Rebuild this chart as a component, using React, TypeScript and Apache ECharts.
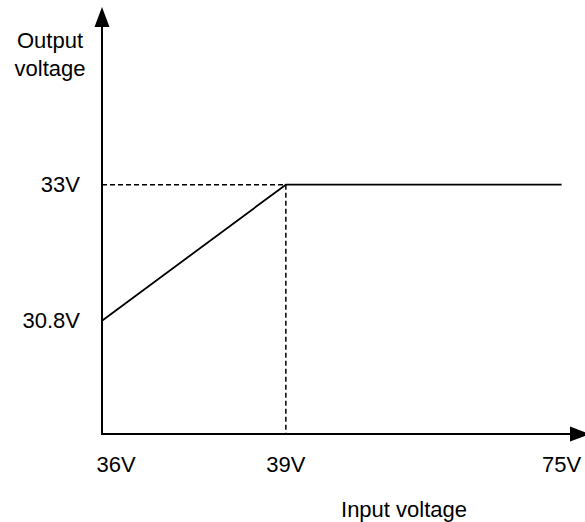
import React, { useEffect, useRef } from "react";
import * as echarts from "echarts";

// Schematic position of each input-voltage mark along the (non-linear) x axis
const inputLabels = ["36V", "39V", "75V"];
const inputPositions = [0, 2, 5];
// Output voltage tick values
const outputTicks = [30.8, 33];
// Characteristic curve: output voltage at each input mark
const outputValues = [30.8, 33, 33];

const FONT = "'Liberation Sans', Arial, Helvetica, sans-serif";
const FS = 22;

export default function App() {
  const ref = useRef<HTMLDivElement>(null);

  useEffect(() => {
    if (!ref.current) return;
    const chart = echarts.init(ref.current, null, { renderer: "svg" });

    const curve = inputPositions.map((x, i) => [x, outputValues[i]]);
    const yMin = 28.97;
    const kneeX = inputPositions[1];
    const kneeY = outputValues[1];

    chart.setOption({
      animation: false,
      backgroundColor: "#ffffff",
      grid: { left: 102, right: 5, top: 17, bottom: 88, containLabel: false },
      xAxis: {
        type: "value",
        min: 0,
        max: 5.2,
        splitLine: { show: false },
        axisTick: { show: false },
        axisLine: {
          onZero: false,
          symbol: ["none", "triangle"],
          symbolSize: [15, 20],
          lineStyle: { color: "#000", width: 2 },
        },
        axisLabel: {
          customValues: inputPositions,
          margin: 19,
          formatter: (v: number) => {
            const i = inputPositions.indexOf(v);
            if (i < 0) return "";
            return i === 0 ? `{first|${inputLabels[i]}}` : `{n|${inputLabels[i]}}`;
          },
          rich: {
            first: { fontSize: FS, fontFamily: FONT, color: "#000", padding: [0, 0, 0, 28] },
            n: { fontSize: FS, fontFamily: FONT, color: "#000" },
          },
          color: "#000",
          fontSize: FS,
          fontFamily: FONT,
        },
      },
      yAxis: {
        type: "value",
        min: yMin,
        max: 35.71,
        splitLine: { show: false },
        axisTick: { show: false },
        axisLine: {
          onZero: false,
          symbol: ["none", "triangle"],
          symbolSize: [15, 20],
          lineStyle: { color: "#000", width: 2 },
        },
        axisLabel: {
          customValues: outputTicks,
          margin: 22,
          formatter: (v: number) => `${v}V`,
          color: "#000",
          fontSize: FS,
          fontFamily: FONT,
        },
      },
      series: [
        {
          type: "line",
          data: curve,
          symbol: "none",
          lineStyle: { color: "#000", width: 1.8 },
          z: 3,
        },
        {
          type: "line",
          data: [
            [inputPositions[0], kneeY],
            [kneeX, kneeY],
          ],
          symbol: "none",
          lineStyle: { color: "#000", width: 1.5, type: [5, 3] },
          z: 2,
        },
        {
          type: "line",
          data: [
            [kneeX, kneeY],
            [kneeX, yMin],
          ],
          symbol: "none",
          lineStyle: { color: "#000", width: 1.5, type: [5, 3] },
          z: 2,
        },
      ],
      graphic: [
        {
          type: "text",
          x: 50,
          y: 40,
          style: {
            text: "Output",
            align: "center",
            verticalAlign: "middle",
            fontSize: FS,
            fontFamily: FONT,
            fill: "#000",
          },
        },
        {
          type: "text",
          x: 50,
          y: 68,
          style: {
            text: "voltage",
            align: "center",
            verticalAlign: "middle",
            fontSize: FS,
            fontFamily: FONT,
            fill: "#000",
          },
        },
        {
          type: "text",
          x: 404,
          y: 509,
          style: {
            text: "Input voltage",
            align: "center",
            verticalAlign: "middle",
            fontSize: FS,
            fontFamily: FONT,
            fill: "#000",
          },
        },
      ],
    });

    return () => chart.dispose();
  }, []);

  return (
    <div
      ref={ref}
      style={{ position: "fixed", left: 0, top: 0, width: 585, height: 522 }}
    />
  );
}
